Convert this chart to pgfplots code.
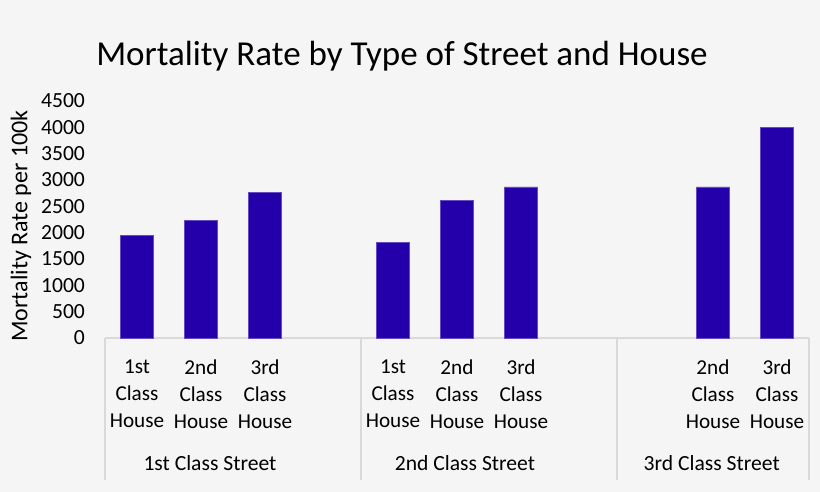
\documentclass[border=0pt]{standalone}
\usepackage{fontspec}
\setmainfont{Carlito}
\usepackage{pgfplots}
\pgfplotsset{compat=1.18}
\definecolor{bg}{HTML}{F5F5F5}
\definecolor{barblue}{HTML}{2400AA}
\definecolor{sepgray}{HTML}{D9D9D9}
\begin{document}
\begin{tikzpicture}
\useasboundingbox (0,0) rectangle (410pt,246pt);
\fill[bg] (0,0) rectangle (410pt,246pt);
\node[font=\fontsize{17.5}{21}\selectfont] at (201pt,218pt) {Mortality Rate by Type of Street and House};
\node[rotate=90, font=\fontsize{12}{14}\selectfont] at (10.5pt,133pt) {Mortality Rate per 100k};
\begin{axis}[
    at={(52.5pt,77pt)}, anchor=south west,
    scale only axis, width=352pt, height=118.5pt,
    ybar, bar width=16.5pt,
    xmin=-0.5, xmax=10.5,
    ymin=0, ymax=4500,
    ytick={0,500,...,4500},
    xtick={0,1,2,4,5,6,9,10},
    xticklabels={1st\\Class\\House, 2nd\\Class\\House, 3rd\\Class\\House,
                 1st\\Class\\House, 2nd\\Class\\House, 3rd\\Class\\House,
                 2nd\\Class\\House, 3rd\\Class\\House},
    xticklabel style={align=center, anchor=north, yshift=-7.6pt,
                      font=\fontsize{10.6}{13.5}\selectfont},
    yticklabel style={xshift=-6.5pt, font=\fontsize{10.8}{12}\selectfont},
    /pgf/number format/assume math mode=true,
    /pgf/number format/1000 sep={},
    axis x line*=bottom, axis y line*=left,
    y axis line style={draw=none},
    x axis line style={draw=sepgray, line width=0.8pt},
    major tick length=0pt,
    xtick style={draw=none}, ytick style={draw=none},
    clip=false,
]
\addplot[fill=barblue, draw=barblue!70!white, line width=0.3pt]
    coordinates {(0,1950) (1,2230) (2,2760) (4,1810) (5,2620) (6,2870) (9,2870) (10,4000)};
\foreach \sx in {-0.5,3.5,7.5,10.5} {
    \edef\tmp{\noexpand\draw[sepgray, line width=0.8pt] (axis cs:\sx,0) -- ([yshift=-71pt]axis cs:\sx,0);}
    \tmp
}
\node[anchor=base, font=\fontsize{10.8}{12}\selectfont] at ([yshift=-66.4pt]axis cs:1.14,0) {1st Class Street};
\node[anchor=base, font=\fontsize{10.8}{12}\selectfont] at ([yshift=-66.4pt]axis cs:5.125,0) {2nd Class Street};
\node[anchor=base, font=\fontsize{10.8}{12}\selectfont] at ([yshift=-66.4pt]axis cs:8.98,0) {3rd Class Street};
\end{axis}
\end{tikzpicture}
\end{document}
